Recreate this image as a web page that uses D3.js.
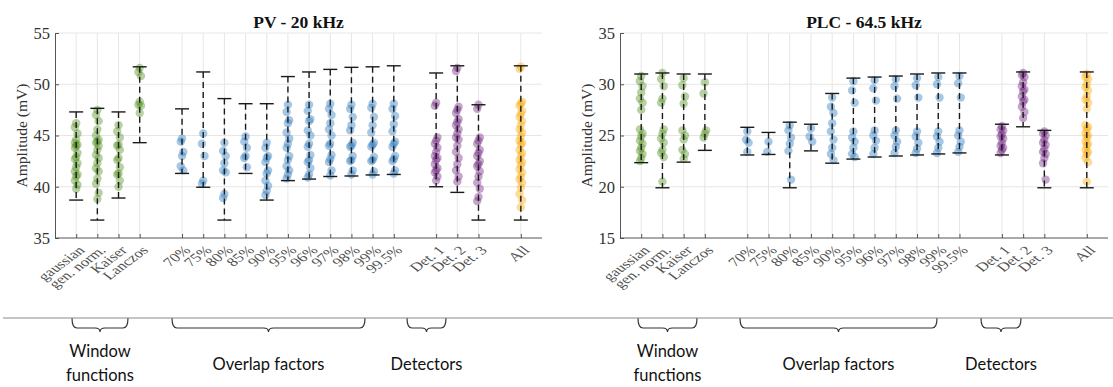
<!DOCTYPE html>
<html>
<head>
<meta charset="utf-8">
<script src="https://cdn.jsdelivr.net/npm/d3@7"></script>
<style>
  body { margin: 0; background: #fff; }
  svg { display: block; }
</style>
</head>
<body>
<svg id="chart" width="1113" height="387"></svg>
<script>
// categories along the x axis, split in groups
const categories = ['gaussian', 'gen. norm.', 'Kaiser', 'Lanczos',
  '70%', '75%', '80%', '85%', '90%', '95%', '96%', '97%', '98%', '99%', '99.5%',
  'Det. 1', 'Det. 2', 'Det. 3', 'All'];
const categoryGroup = ['win', 'win', 'win', 'win',
  'ovl', 'ovl', 'ovl', 'ovl', 'ovl', 'ovl', 'ovl', 'ovl', 'ovl', 'ovl', 'ovl',
  'det', 'det', 'det', 'all'];
const groupColor = { win: '#4a8c17', ovl: '#2476bd', det: '#6e1f80', all: '#f9a800' };

// PV - 20 kHz
const pvMin = [38.7, 36.75, 38.9, 44.3, 41.3, 39.95, 36.75, 41.3, 38.7, 40.6, 40.75, 41.0, 41.05, 41.15, 41.2, 40.0, 39.45, 36.75, 36.75];
const pvMax = [47.3, 47.65, 47.3, 51.7, 47.6, 51.2, 48.6, 48.1, 48.1, 50.75, 51.2, 51.45, 51.65, 51.7, 51.8, 51.1, 51.8, 48.0, 51.8];
const pvPoints = [
  [46.2, 45.8, 45.2, 44.6, 44.3, 44.1, 44.0, 43.8, 43.3, 42.9, 42.7, 42.3, 41.9, 41.5, 41.2, 41.0, 40.6, 40.2, 39.8],
  [47.5, 47.0, 46.4, 45.6, 45.0, 44.6, 44.4, 44.3, 44.0, 43.6, 43.1, 42.8, 42.3, 41.8, 41.5, 40.8, 40.3, 39.4, 38.8],
  [46.0, 45.4, 44.8, 44.1, 44.0, 43.6, 42.8, 42.6, 41.9, 41.3, 41.2, 40.6, 40.0],
  [51.6, 51.2, 50.8, 48.3, 48.0, 47.9, 47.2],
  [44.7, 44.4, 43.4, 43.0, 42.0, 41.6],
  [45.2, 44.2, 43.0, 40.6, 40.3],
  [44.3, 43.5, 43.0, 42.3, 41.6, 41.4, 39.3, 38.9],
  [44.9, 44.4, 43.8, 43.0, 42.8, 41.9],
  [44.3, 43.8, 43.0, 42.8, 42.4, 41.6, 41.3, 40.6, 40.1, 39.6, 39.2],
  [48.0, 47.3, 46.5, 46.2, 45.3, 44.7, 44.2, 43.8, 43.0, 42.6, 42.0, 41.6, 41.2, 40.8],
  [48.0, 47.4, 46.6, 46.4, 45.5, 45.0, 44.2, 43.9, 43.1, 42.6, 42.4, 41.8, 41.2, 40.9],
  [48.1, 47.6, 47.0, 46.2, 45.6, 45.0, 44.2, 44.0, 43.1, 42.7, 42.4, 41.6, 41.1],
  [48.0, 47.6, 46.8, 46.0, 45.5, 44.3, 44.0, 43.9, 43.0, 42.6, 42.5, 41.6, 41.2],
  [48.1, 47.7, 46.8, 46.0, 45.3, 44.3, 44.1, 43.9, 42.9, 42.6, 42.5, 41.5, 41.2],
  [48.1, 47.6, 46.9, 46.1, 45.4, 44.4, 44.2, 43.9, 43.0, 42.7, 42.5, 41.6, 41.3],
  [48.2, 47.9, 44.8, 44.5, 44.2, 43.8, 43.4, 43.0, 42.8, 42.6, 42.2, 41.8, 41.6, 41.4, 41.0, 40.6],
  [51.6, 51.3, 47.8, 47.5, 47.2, 46.6, 46.3, 46.0, 45.6, 45.2, 44.8, 44.6, 44.0, 43.4, 42.8, 42.2, 41.6, 41.0, 40.5],
  [48.0, 47.6, 44.8, 44.5, 44.2, 43.6, 43.3, 43.0, 42.5, 42.2, 42.0, 41.5, 41.0, 40.4, 39.8, 39.0, 38.6],
  [51.7, 51.5, 48.3, 48.1, 47.9, 47.4, 47.1, 46.8, 46.4, 46.0, 45.6, 45.3, 44.9, 44.5, 44.3, 44.1, 43.6, 43.3, 43.0,
   42.6, 42.4, 42.1, 41.7, 41.4, 41.0, 40.7, 40.4, 39.9, 39.3, 38.7, 38.0]
];

// PLC - 64.5 kHz
const plcMin = [22.35, 19.9, 22.4, 23.55, 23.1, 23.15, 19.9, 23.5, 22.3, 22.7, 22.9, 23.0, 23.1, 23.2, 23.3, 23.1, 25.85, 19.9, 19.9];
const plcMax = [31.0, 31.1, 31.0, 31.0, 25.8, 25.3, 26.3, 26.1, 29.1, 30.6, 30.7, 30.8, 31.0, 31.1, 31.1, 26.1, 31.2, 25.5, 31.2];
const plcPoints = [
  [30.8, 30.3, 29.8, 29.2, 28.6, 28.2, 27.5, 25.6, 25.2, 24.9, 24.5, 24.2, 23.8, 23.5, 23.2, 22.8, 22.5],
  [31.1, 30.5, 29.8, 28.6, 28.2, 25.6, 25.2, 24.7, 24.3, 23.6, 23.3, 22.9, 20.5],
  [30.6, 29.9, 28.8, 28.1, 25.5, 25.0, 24.6, 23.6, 23.2, 22.7],
  [30.2, 29.1, 25.5, 25.2, 24.8],
  [25.4, 24.6, 24.3, 23.4],
  [24.4, 23.4],
  [26.0, 25.5, 24.8, 24.2, 23.5, 20.7],
  [25.7, 24.9, 24.4],
  [28.7, 27.8, 27.2, 26.2, 25.4, 24.6, 23.8, 23.2, 22.6],
  [30.3, 29.4, 28.2, 25.4, 24.8, 24.4, 23.8, 23.2, 22.9],
  [30.4, 29.6, 28.4, 25.5, 25.0, 24.5, 23.8, 23.2],
  [30.5, 29.8, 28.6, 25.5, 25.0, 24.4, 23.9, 23.3],
  [30.6, 29.9, 28.7, 25.4, 24.9, 24.3, 23.7, 23.3],
  [30.7, 30.0, 28.7, 25.4, 24.9, 24.4, 23.8, 23.3],
  [30.8, 30.1, 28.7, 25.5, 25.0, 24.4, 23.9, 23.4],
  [25.9, 25.6, 25.5, 25.1, 24.9, 24.7, 24.3, 24.0, 23.8, 23.6, 23.3],
  [31.1, 30.9, 30.7, 30.2, 29.8, 29.5, 29.3, 28.8, 28.5, 28.3, 27.8, 27.3, 26.7],
  [25.4, 25.2, 25.0, 24.6, 24.3, 24.1, 23.7, 23.4, 23.2, 22.8, 22.3, 20.7],
  [31.0, 30.7, 30.5, 30.0, 29.7, 29.4, 28.8, 28.5, 28.2, 27.6, 26.0, 25.8, 25.6, 25.2, 25.0, 24.8, 24.4,
   24.2, 24.0, 23.6, 23.4, 23.2, 22.8, 22.4, 20.5]
];

const pvTicks = [35, 40, 45, 50, 55];
const plcTicks = [15, 20, 25, 30, 35];

const groupLabels = [['Window', 'functions'], ['Overlap factors'], ['Detectors']];

const panels = [
  { title: 'PV - 20 kHz', min: pvMin, max: pvMax, points: pvPoints, ticks: pvTicks,
    x0: 55, x1: 542, braces: [[72, 128], [172, 365], [407, 446]] },
  { title: 'PLC - 64.5 kHz', min: plcMin, max: plcMax, points: plcPoints, ticks: plcTicks,
    x0: 620, x1: 1108, braces: [[638, 697], [740, 937], [981, 1021]] }
];

// slot index: one empty slot between groups
const slots = [];
let s = 0;
categoryGroup.forEach((g, i) => {
  if (i > 0 && g !== categoryGroup[i - 1]) s += 1;
  s += 1;
  slots.push(s);
});

const svg = d3.select('#chart');
const plotTop = 33, plotBottom = 238;
const serif = '"Liberation Serif", "Times New Roman", serif';

function bracePath(xa, xb, y0) {
  const ym = y0 + 10, yt = y0 + 14, r = 5, cx = (xa + xb) / 2;
  return `M${xa},${y0} Q${xa},${ym} ${xa + r},${ym} L${cx - r},${ym} Q${cx},${ym} ${cx},${yt}` +
    ` Q${cx},${ym} ${cx + r},${ym} L${xb - r},${ym} Q${xb},${ym} ${xb},${y0}`;
}

panels.forEach(p => {
  const x = d3.scaleLinear().domain([0, s + 1]).range([p.x0, p.x1]);
  const y = d3.scaleLinear().domain([p.ticks[0], p.ticks[p.ticks.length - 1]]).range([plotBottom, plotTop]);
  const g = svg.append('g');

  // grid
  g.append('g')
    .selectAll('line.vg').data(slots).enter().append('line')
    .attr('x1', d => x(d)).attr('x2', d => x(d))
    .attr('y1', plotTop).attr('y2', plotBottom)
    .attr('stroke', '#e6e6e6').attr('stroke-width', 1);
  g.append('g')
    .selectAll('line.hg').data(p.ticks.slice(1)).enter().append('line')
    .attr('x1', p.x0).attr('x2', p.x1)
    .attr('y1', d => y(d)).attr('y2', d => y(d))
    .attr('stroke', '#e6e6e6').attr('stroke-width', 1);

  // axes
  const yAxis = g.append('g')
    .attr('transform', `translate(${p.x0},0)`)
    .call(d3.axisLeft(y).tickValues(p.ticks).tickSize(-4).tickPadding(5));
  yAxis.selectAll('text').attr('font-family', serif).attr('font-size', 16.5).attr('fill', '#333');

  const xAxis = g.append('g')
    .attr('transform', `translate(0,${plotBottom})`)
    .call(d3.axisBottom(x).tickValues(slots).tickSize(-4).tickFormat((d, i) => categories[i]));
  xAxis.selectAll('text')
    .attr('font-family', serif).attr('font-size', 12.5).attr('fill', '#505050')
    .attr('text-anchor', 'end')
    .attr('dy', 0).attr('y', 0)
    .attr('transform', 'translate(9,13) scale(1.35,1) rotate(-45)');
  [yAxis, xAxis].forEach(a => {
    a.select('.domain').attr('stroke', '#555');
    a.selectAll('.tick line').attr('stroke', '#555');
  });
  xAxis.select('.domain').attr('d', `M${p.x0},0H${p.x1}`);

  // points
  p.points.forEach((vals, i) => {
    g.append('g').selectAll('circle').data(vals).enter().append('circle')
      .attr('cx', (d, j) => x(slots[i]) + [0, -1.3, 1.3][j % 3])
      .attr('cy', d => y(d))
      .attr('r', 4.2)
      .attr('fill', groupColor[categoryGroup[i]])
      .attr('fill-opacity', 0.4);
  });

  // whiskers
  const wh = g.append('g').attr('stroke', '#1a1a1a').attr('stroke-width', 1.4);
  wh.selectAll('line.w').data(slots).enter().append('line')
    .attr('x1', d => x(d)).attr('x2', d => x(d))
    .attr('y1', (d, i) => y(p.max[i])).attr('y2', (d, i) => y(p.min[i]))
    .attr('stroke-dasharray', '6,4');
  ['min', 'max'].forEach(k => {
    wh.selectAll('line.' + k).data(slots).enter().append('line')
      .attr('x1', d => x(d) - 7).attr('x2', d => x(d) + 7)
      .attr('y1', (d, i) => y(p[k][i])).attr('y2', (d, i) => y(p[k][i]));
  });

  // title and y label
  g.append('text')
    .attr('x', (p.x0 + p.x1) / 2).attr('y', 28)
    .attr('text-anchor', 'middle')
    .attr('font-family', serif).attr('font-size', 17.5).attr('font-weight', 'bold')
    .attr('fill', '#111')
    .text(p.title);
  g.append('text')
    .attr('transform', `translate(${p.x0 - 28},${(plotTop + plotBottom) / 2}) rotate(-90)`)
    .attr('text-anchor', 'middle')
    .attr('font-family', serif).attr('font-size', 15.5).attr('fill', '#333')
    .text('Amplitude (mV)');

  // braces and group names
  p.braces.forEach((b, i) => {
    g.append('path')
      .attr('d', bracePath(b[0], b[1], 318))
      .attr('fill', 'none').attr('stroke', '#333').attr('stroke-width', 1.2);
    const lines = groupLabels[i];
    lines.forEach((t, k) => {
      g.append('text')
        .attr('x', (b[0] + b[1]) / 2)
        .attr('y', lines.length > 1 ? 357 + k * 24 : 370)
        .attr('text-anchor', 'middle')
        .attr('font-family', 'Lato, "Open Sans", sans-serif').attr('font-size', 16.5)
        .attr('fill', '#111')
        .text(t);
    });
  });
});

// separator line above the group braces
svg.append('line')
  .attr('x1', 3).attr('x2', 1113).attr('y1', 318).attr('y2', 318)
  .attr('stroke', '#8a8a8a').attr('stroke-width', 1);
</script>
</body>
</html>
